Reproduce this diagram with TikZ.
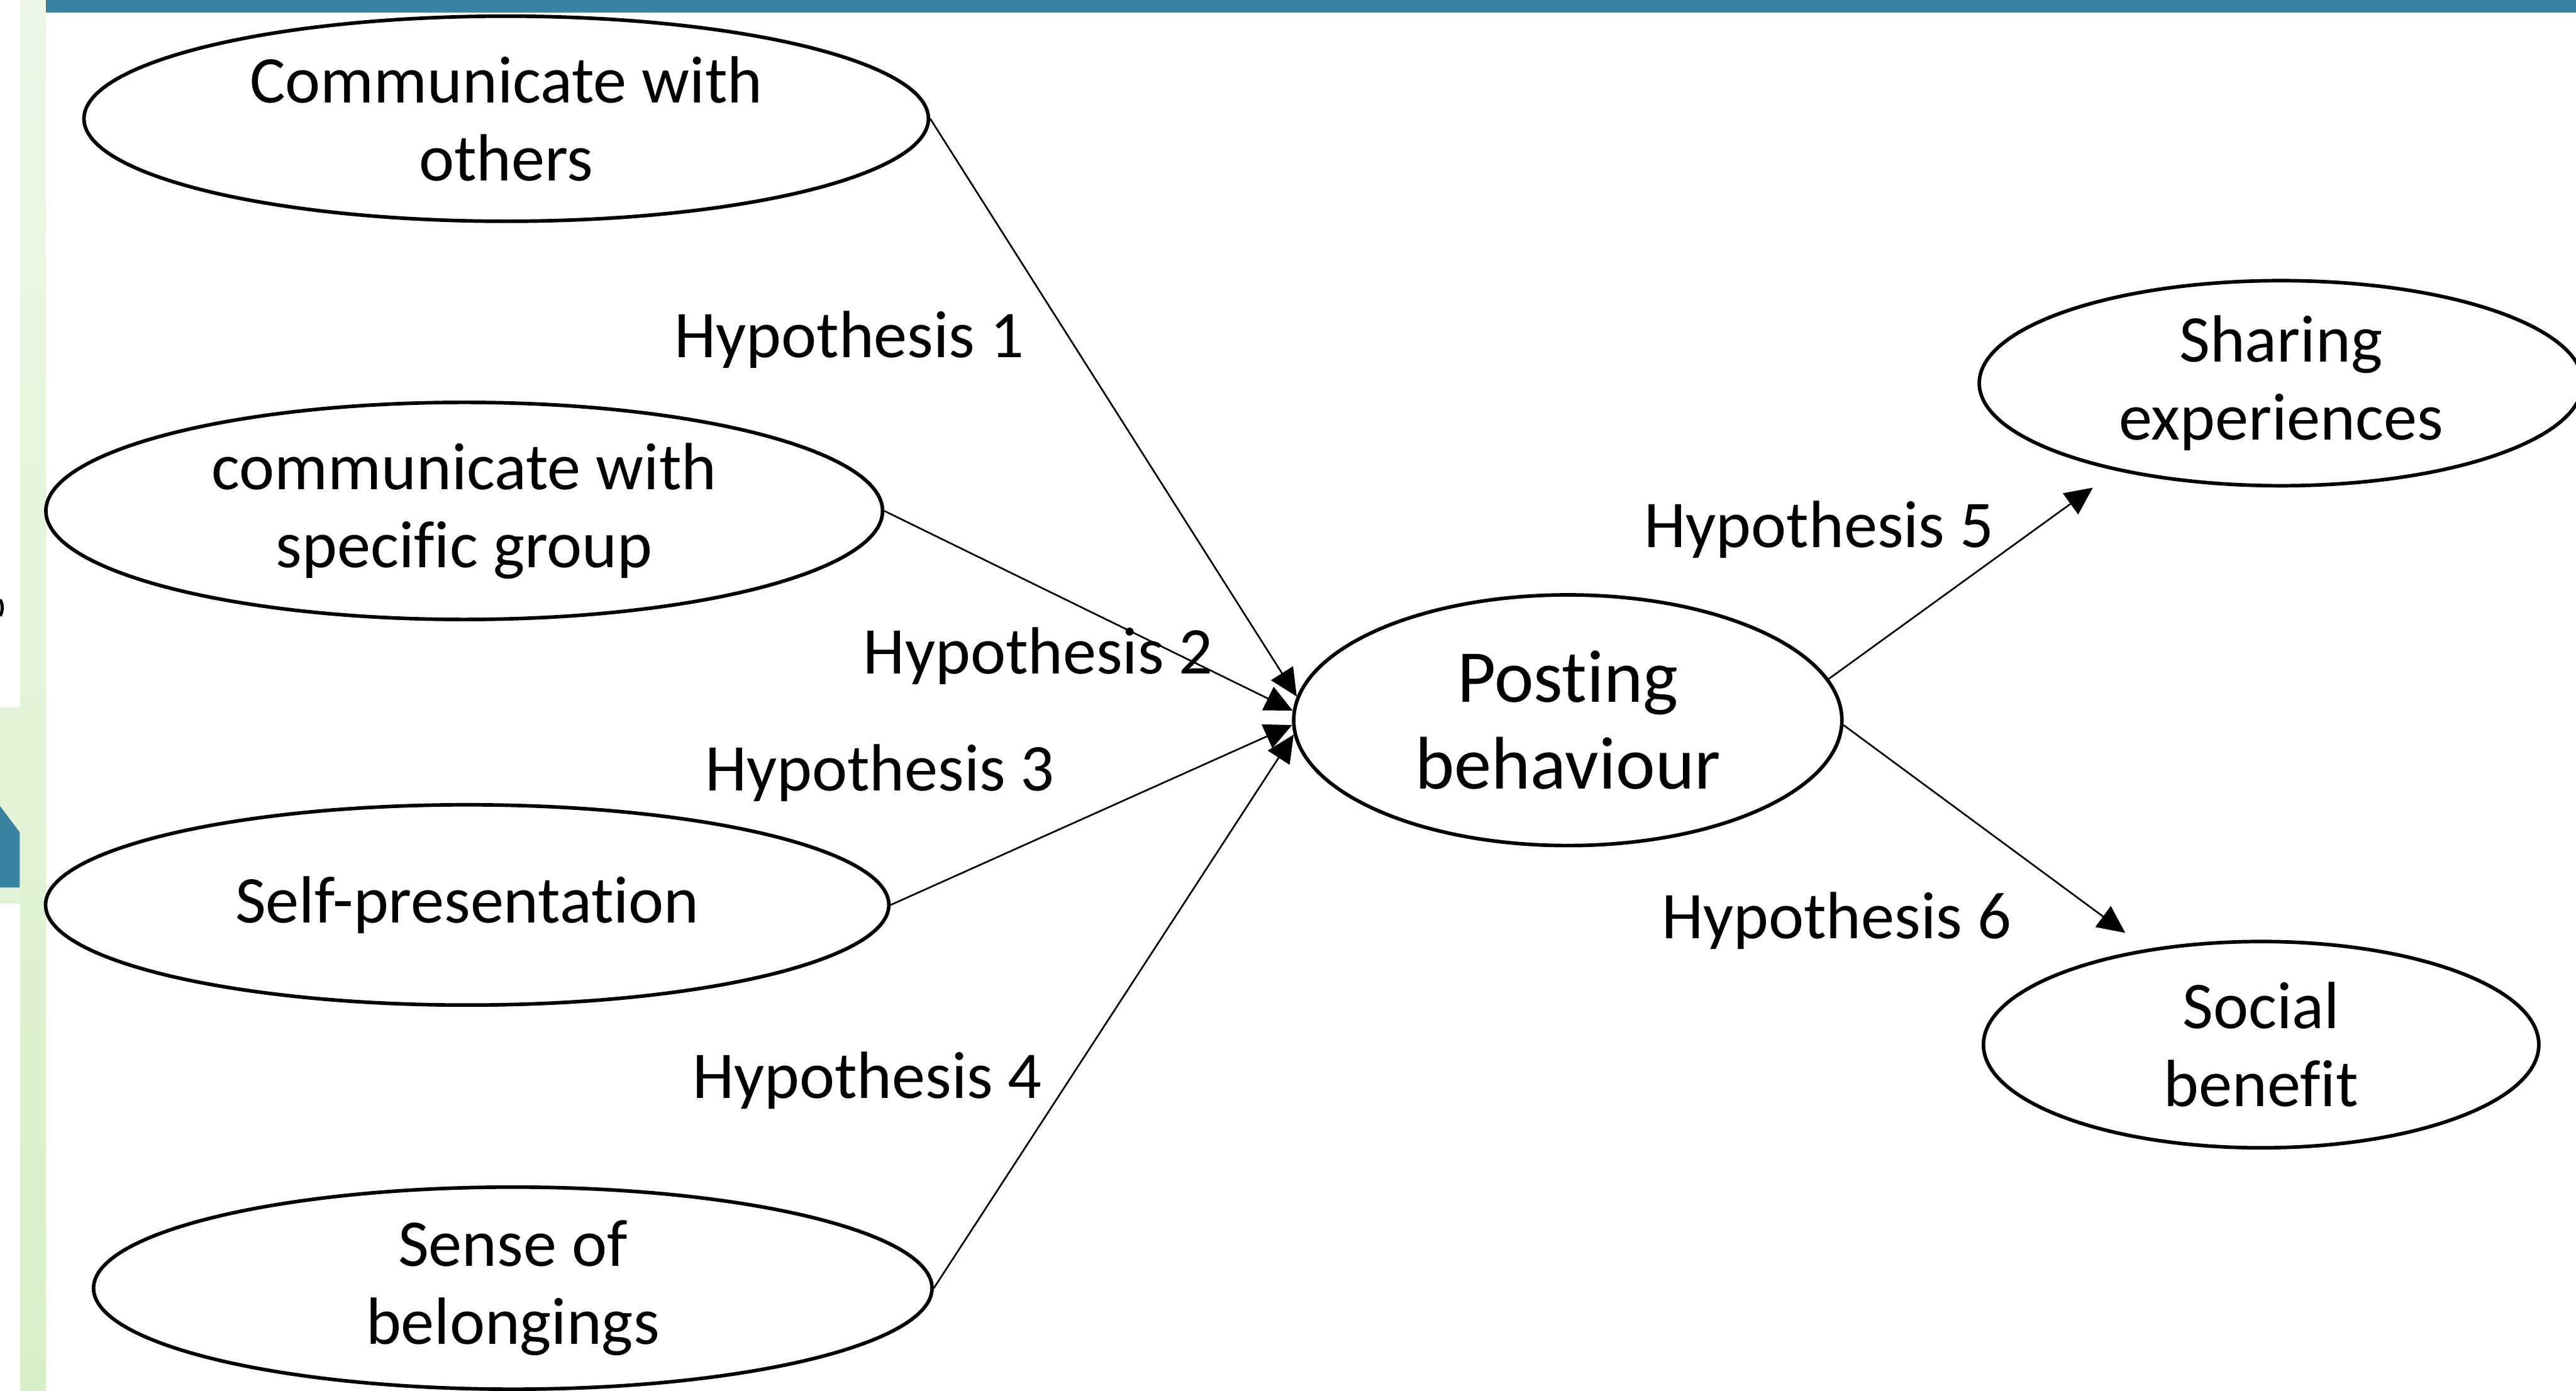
\documentclass[tikz,border=0pt]{standalone}
\usepackage{fontspec}
\setmainfont{Carlito}[Ligatures=NoCommon]
\usetikzlibrary{shapes.geometric, arrows.meta}
\definecolor{barteal}{HTML}{3983A0}
\definecolor{boxgreen}{HTML}{E2F3D8}
\definecolor{striptop}{HTML}{EEF7E8}
\definecolor{stripbottom}{HTML}{D9EFC9}
\begin{document}
\begin{tikzpicture}[
    factor/.style={ellipse, draw, line width=1.7pt, inner sep=0pt, align=center,
        font=\fontsize{31.7}{37}\selectfont},
    hyp/.style={anchor=base, font=\fontsize{31.7}{37}\selectfont},
    link/.style={-{Triangle[length=0.46cm, width=0.43cm]}, line width=0.8pt}
]
    \useasboundingbox (0,0) rectangle (42.95,23.19);

    % Slide decoration
    \fill[barteal] (0.76,22.98) rectangle (42.95,23.19);
    \shade[top color=striptop, bottom color=stripbottom] (0.34,0) rectangle (0.76,23.19);
    \fill[boxgreen] (0,8.12) rectangle (0.34,11.39);
    \fill[barteal] (0,9.75) -- (0.33,9.31) -- (0.33,8.39) -- (0,8.39) -- cycle;
    \draw[line width=1.5pt] (0,13.19) .. controls (0.05,13.12) and (0.05,12.99) .. (0,12.92);

    % Motives
    \node[factor, minimum width=14.08cm, minimum height=3.42cm] (comm) at (8.44,21.21) {Communicate with\\others};
    \node[factor, minimum width=13.95cm, minimum height=3.62cm] (group) at (7.74,14.67) {communicate with\\specific group};
    \node[factor, minimum width=14.06cm, minimum height=3.34cm] (self) at (7.79,8.10) {Self-presentation};
    \node[factor, minimum width=13.98cm, minimum height=3.37cm] (sense) at (8.55,1.71) {Sense of\\belongings};

    % Posting behaviour
    \node[factor, minimum width=9.14cm, minimum height=4.18cm, font=\fontsize{35.4}{41}\selectfont] (post) at (26.14,11.18) {Posting\\behaviour};

    % Outcomes
    \node[factor, minimum width=10.06cm, minimum height=3.42cm] (share) at (38.03,16.80) {Sharing\\experiences};
    \node[factor, minimum width=9.26cm, minimum height=3.44cm] (social) at (37.70,5.77) {Social\\benefit};

    % Hypotheses
    \draw[link] (comm.east) -- (post.175);
    \draw[link] (group.east) -- (post.178);
    \draw[link] (self.east) -- (post.181);
    \draw[link] (sense.east) -- (post.183);
    \draw[link, shorten >=0.48cm] (post.9) -- (share.208);
    \draw[link, shorten >=0.45cm] (post.359) -- (social.140);

    \node[hyp] (h1) at (14.16,17.23) {Hypothesis 1};
    \node[hyp] (h2) at (17.31,11.95) {Hypothesis 2};
    \node[hyp] (h3) at (14.67,10.00) {Hypothesis 3};
    \node[hyp] (h4) at (14.46,4.88) {Hypothesis 4};
    \node[hyp] (h5) at (30.33,14.06) {Hypothesis 5};
    \node[hyp] (h6) at (30.62,7.54) {Hypothesis 6};
\end{tikzpicture}
\end{document}
